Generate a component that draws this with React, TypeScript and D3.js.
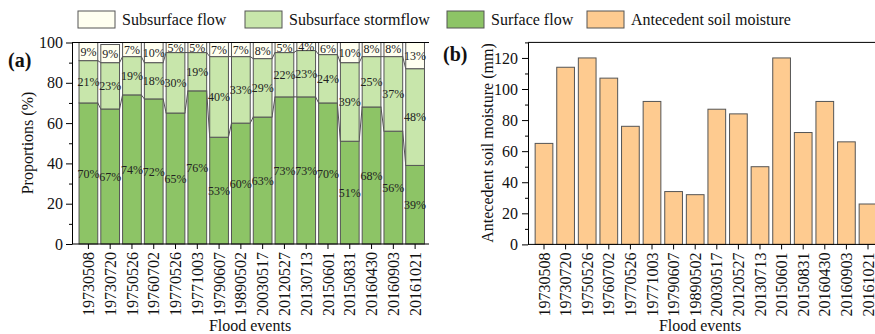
import React, { useEffect, useRef } from 'react';
import * as d3 from 'd3';

// Flood events (x categories, same for both panels)
const events = [
  '19730508', '19730720', '19750526', '19760702', '19770526', '19771003',
  '19790607', '19890502', '20030517', '20120527', '20130713', '20150601',
  '20150831', '20160430', '20160903', '20161021',
];

// Panel (a): runoff component proportions (%)
const surfaceFlow = [70, 67, 74, 72, 65, 76, 53, 60, 63, 73, 73, 70, 51, 68, 56, 39];
const subsurfaceStormflow = [21, 23, 19, 18, 30, 19, 40, 33, 29, 22, 23, 24, 39, 25, 37, 48];
const subsurfaceFlow = [9, 9, 7, 10, 5, 5, 7, 7, 8, 5, 4, 6, 10, 8, 8, 13];

// Panel (b): antecedent soil moisture (mm)
const soilMoisture = [65, 114, 120, 107, 76, 92, 34, 32, 87, 84, 50, 120, 72, 92, 66, 26];

const propTicks = [0, 20, 40, 60, 80, 100];
const propMinor = [10, 30, 50, 70, 90];
const moistTicks = [0, 20, 40, 60, 80, 100, 120];
const moistMinor = [10, 30, 50, 70, 90, 110, 130];

const seriesNames = ['Subsurface flow', 'Subsurface stormflow', 'Surface flow', 'Antecedent soil moisture'];

const colors = {
  subsurfaceFlow: '#fffff0',
  stormflow: '#c8e6ab',
  surface: '#8dc466',
  moisture: '#fecb90',
  stroke: '#555555',
};

const FONT = '"Liberation Serif", "Times New Roman", serif';

const App = () => {
  const svgRef = useRef<SVGSVGElement | null>(null);

  useEffect(() => {
    const svg = d3.select(svgRef.current);
    svg.selectAll('*').remove();
    svg.style('font-family', FONT);

    // ---------- legend ----------
    const legendBoxes = [78, 245, 447, 587];
    const legendFills = [colors.subsurfaceFlow, colors.stormflow, colors.surface, colors.moisture];
    const legend = svg.append('g');
    seriesNames.forEach((name, i) => {
      legend.append('rect')
        .attr('x', legendBoxes[i]).attr('y', 11)
        .attr('width', 37).attr('height', 17)
        .attr('fill', legendFills[i]).attr('stroke', colors.stroke).attr('stroke-width', 1);
      legend.append('text')
        .attr('x', legendBoxes[i] + 44).attr('y', 25)
        .attr('font-size', 16).attr('fill', '#111')
        .text(name);
    });

    // ---------- panel (a) ----------
    const aLeft = 72;
    const aRight = 429;
    const yA = d3.scaleLinear().domain([0, 100]).range([244, 42.5]).clamp(true);
    const xA = d3.scaleBand().domain(events).range([77.5, 426]).paddingInner(0.14).paddingOuter(0.07);

    const rows = events.map((e, i) => ({
      event: e,
      surface: surfaceFlow[i],
      storm: subsurfaceStormflow[i],
      sub: subsurfaceFlow[i],
    }));
    const keys = ['surface', 'storm', 'sub'];
    const fills: Record<string, string> = {
      surface: colors.surface,
      storm: colors.stormflow,
      sub: colors.subsurfaceFlow,
    };
    const stacked = d3.stack<any>().keys(keys)(rows);

    const gA = svg.append('g');

    // connecting lines between adjacent bars
    stacked.slice(0, 2).forEach((layer) => {
      for (let i = 0; i < layer.length - 1; i++) {
        gA.append('line')
          .attr('x1', (xA(events[i]) as number) + xA.bandwidth())
          .attr('x2', xA(events[i + 1]) as number)
          .attr('y1', yA(layer[i][1]))
          .attr('y2', yA(layer[i + 1][1]))
          .attr('stroke', colors.stroke).attr('stroke-width', 1);
      }
    });

    stacked.forEach((layer) => {
      gA.append('g').selectAll('rect')
        .data(layer)
        .enter()
        .append('rect')
        .attr('x', (d: any) => xA(d.data.event) as number)
        .attr('y', (d) => yA(d[1]))
        .attr('width', xA.bandwidth())
        .attr('height', (d) => yA(d[0]) - yA(d[1]))
        .attr('fill', fills[layer.key])
        .attr('stroke', colors.stroke)
        .attr('stroke-width', 1);
    });

    stacked.forEach((layer) => {
      gA.append('g').selectAll('text')
        .data(layer)
        .enter()
        .append('text')
        .attr('x', (d: any) => (xA(d.data.event) as number) + xA.bandwidth() / 2)
        .attr('y', (d) => yA((d[0] + d[1]) / 2))
        .attr('dy', '0.35em')
        .attr('text-anchor', 'middle')
        .attr('font-size', 12)
        .attr('fill', '#222')
        .text((d) => `${d[1] - d[0]}%`);
    });

    // axes (a)
    const axA = svg.append('g').attr('transform', `translate(${aLeft},0)`);
    axA.call(d3.axisLeft(yA).tickValues(propTicks).tickSize(6).tickSizeOuter(0).tickPadding(3));
    axA.append('g').call(d3.axisLeft(yA).tickValues(propMinor).tickSize(3).tickFormat(() => ''))
      .select('.domain').remove();
    axA.selectAll('text').attr('font-size', 16).attr('font-family', FONT).attr('fill', '#111');

    const axAb = svg.append('g').attr('transform', `translate(0,${yA(0)})`);
    axAb.call(d3.axisBottom(xA).tickSize(5).tickSizeOuter(0));
    axAb.select('.domain').remove();
    axAb.selectAll('text')
      .attr('transform', 'rotate(-90)')
      .attr('text-anchor', 'end')
      .attr('x', -8).attr('y', 0).attr('dy', '0.35em')
      .attr('font-size', 16).attr('font-family', FONT).attr('fill', '#111');
    svg.append('line').attr('x1', aLeft).attr('x2', aRight).attr('y1', yA(0)).attr('y2', yA(0))
      .attr('stroke', '#000');
    svg.append('line').attr('x1', aLeft).attr('x2', aRight).attr('y1', yA(100)).attr('y2', yA(100))
      .attr('stroke', '#000');

    svg.append('text').attr('transform', `translate(33,143) rotate(-90)`)
      .attr('text-anchor', 'middle').attr('font-size', 16).attr('fill', '#111')
      .text('Proportions (%)');
    svg.append('text').attr('x', 250).attr('y', 331)
      .attr('text-anchor', 'middle').attr('font-size', 16).attr('fill', '#111')
      .text('Flood events');
    svg.append('text').attr('x', 8).attr('y', 67)
      .attr('font-size', 20).attr('font-weight', 'bold').attr('fill', '#111')
      .text('(a)');

    // ---------- panel (b) ----------
    const bLeft = 528;
    const bRight = 875;
    const yB = d3.scaleLinear().domain([0, 130]).range([244.4, 42.4]);
    const xB = d3.scaleBand().domain(events).range([533.2, 878.8]).paddingInner(0.18).paddingOuter(0.09);

    svg.append('g').selectAll('rect')
      .data(soilMoisture)
      .enter()
      .append('rect')
      .attr('x', (_d, i) => xB(events[i]) as number)
      .attr('y', (d) => yB(d))
      .attr('width', xB.bandwidth())
      .attr('height', (d) => yB(0) - yB(d))
      .attr('fill', colors.moisture)
      .attr('stroke', colors.stroke)
      .attr('stroke-width', 1);

    const axB = svg.append('g').attr('transform', `translate(${bLeft},0)`);
    axB.call(d3.axisLeft(yB).tickValues(moistTicks).tickSize(6).tickSizeOuter(0).tickPadding(4));
    axB.append('g').call(d3.axisLeft(yB).tickValues(moistMinor).tickSize(3).tickFormat(() => ''))
      .select('.domain').remove();
    axB.selectAll('text').attr('font-size', 16).attr('font-family', FONT).attr('fill', '#111');

    const axBb = svg.append('g').attr('transform', `translate(0,${yB(0)})`);
    axBb.call(d3.axisBottom(xB).tickSize(5).tickSizeOuter(0));
    axBb.select('.domain').remove();
    axBb.selectAll('text')
      .attr('transform', 'rotate(-90)')
      .attr('text-anchor', 'end')
      .attr('x', -8).attr('y', 0).attr('dy', '0.35em')
      .attr('font-size', 16).attr('font-family', FONT).attr('fill', '#111');
    svg.append('line').attr('x1', bLeft).attr('x2', bRight).attr('y1', yB(0)).attr('y2', yB(0))
      .attr('stroke', '#000');
    svg.append('line').attr('x1', bLeft).attr('x2', bRight).attr('y1', yB(130)).attr('y2', yB(130))
      .attr('stroke', '#000');

    svg.append('text').attr('transform', `translate(493,143) rotate(-90)`)
      .attr('text-anchor', 'middle').attr('font-size', 16).attr('fill', '#111')
      .text('Antecedent soil moisture (mm)');
    svg.append('text').attr('x', 700).attr('y', 331)
      .attr('text-anchor', 'middle').attr('font-size', 16).attr('fill', '#111')
      .text('Flood events');
    svg.append('text').attr('x', 443).attr('y', 61)
      .attr('font-size', 20).attr('font-weight', 'bold').attr('fill', '#111')
      .text('(b)');
  }, []);

  return (
    <svg
      ref={svgRef}
      width={875}
      height={334}
      style={{ position: 'absolute', left: 0, top: 0, background: '#fff' }}
    />
  );
};

export default App;
